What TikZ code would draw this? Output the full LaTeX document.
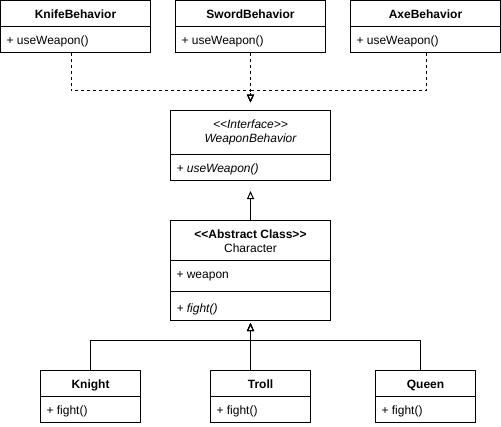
\documentclass[tikz,border=0pt]{standalone}
\usepackage{fontspec}
\setmainfont{Liberation Sans}
\usetikzlibrary{arrows.meta,calc}
\begin{document}
\begin{tikzpicture}[x=1pt,y=-1pt,line width=1pt,
  box/.style={draw,line width=1pt,anchor=north west,inner sep=0pt,outer sep=0pt},
  ttl/.style={font=\fontsize{12}{14}\selectfont\bfseries,anchor=base,inner sep=0pt},
  ttlr/.style={font=\fontsize{12}{14}\selectfont,anchor=base,inner sep=0pt},
  ttli/.style={font=\fontsize{12}{14}\selectfont\itshape,anchor=base,inner sep=0pt},
  itm/.style={font=\fontsize{12}{14}\selectfont,anchor=base west,inner sep=0pt},
  itmi/.style={font=\fontsize{12}{14}\selectfont\itshape,anchor=base west,inner sep=0pt},
  inh/.style={-{Triangle[open,length=8pt,width=7pt]}},
  real/.style={inh,dash pattern=on 3pt off 3pt}]
\useasboundingbox (0,0) rectangle (501,426);

% top behaviour classes
\node[box,minimum width=150pt,minimum height=52pt] (knife) at (0.5,0.5) {};
\draw ($(knife.north west)+(0,26)$) -- ($(knife.north east)+(0,26)$);
\node[ttl] (knifeT) at ($(knife.north)+(0,18)$) {KnifeBehavior};
\node[itm] (knifeA) at ($(knife.north west)+(5.5,44.3)$) {+ useWeapon()};

\node[box,minimum width=150pt,minimum height=52pt] (sword) at (175.5,0.5) {};
\draw ($(sword.north west)+(0,26)$) -- ($(sword.north east)+(0,26)$);
\node[ttl] (swordT) at ($(sword.north)+(0,18)$) {SwordBehavior};
\node[itm] (swordA) at ($(sword.north west)+(5.5,44.3)$) {+ useWeapon()};

\node[box,minimum width=150pt,minimum height=52pt] (axe) at (350.5,0.5) {};
\draw ($(axe.north west)+(0,26)$) -- ($(axe.north east)+(0,26)$);
\node[ttl] (axeT) at ($(axe.north)+(0,18)$) {AxeBehavior};
\node[itm] (axeA) at ($(axe.north west)+(5.5,44.3)$) {+ useWeapon()};

% interface
\node[box,minimum width=160pt,minimum height=70pt] (iface) at (170.5,110.5) {};
\draw ($(iface.north west)+(0,44)$) -- ($(iface.north east)+(0,44)$);
\node[ttli] (ifaceT1) at ($(iface.north)+(0,18)$) {<{}<Interface>{}>};
\node[ttli] (ifaceT2) at ($(iface.north)+(0,31.5)$) {WeaponBehavior};
\node[itmi] (ifaceA) at ($(iface.north west)+(5.5,61.7)$) {+ useWeapon()};

% abstract class
\node[box,minimum width=160pt,minimum height=100pt] (character) at (170.5,220.5) {};
\draw ($(character.north west)+(0,40)$) -- ($(character.north east)+(0,40)$);
\draw ($(character.north west)+(0,70.5)$) -- ($(character.north east)+(0,70.5)$);
\node[ttl] (charT1) at ($(character.north)+(0,18)$) {<{}<Abstract Class>{}>};
\node[ttlr] (charT2) at ($(character.north)+(0,31.5)$) {Character};
\node[itm] (charA) at ($(character.north west)+(5.5,57.8)$) {+ weapon};
\node[itmi] (charM) at ($(character.north west)+(5.5,91.5)$) {+ fight()};

% subclasses
\node[box,minimum width=100pt,minimum height=52pt] (knight) at (40.5,370.5) {};
\draw ($(knight.north west)+(0,26)$) -- ($(knight.north east)+(0,26)$);
\node[ttl] (knightT) at ($(knight.north)+(0,17.8)$) {Knight};
\node[itm] (knightM) at ($(knight.north west)+(5.5,43.8)$) {+ fight()};

\node[box,minimum width=100pt,minimum height=52pt] (troll) at (210.5,370.5) {};
\draw ($(troll.north west)+(0,26)$) -- ($(troll.north east)+(0,26)$);
\node[ttl] (trollT) at ($(troll.north)+(0,17.8)$) {Troll};
\node[itm] (trollM) at ($(troll.north west)+(5.5,43.8)$) {+ fight()};

\node[box,minimum width=100pt,minimum height=52pt] (queen) at (375.5,370.5) {};
\draw ($(queen.north west)+(0,26)$) -- ($(queen.north east)+(0,26)$);
\node[ttl] (queenT) at ($(queen.north)+(0,17.8)$) {Queen};
\node[itm] (queenM) at ($(queen.north west)+(5.5,43.8)$) {+ fight()};

% realisation connectors
\coordinate (rj) at ($(iface.north)+(0,-20)$);
\draw[real,shorten >=8pt] ($(knife.south)+(-4.5,0)$) |- (rj) -- (iface.north);
\draw[real,shorten >=8pt] (sword.south) -- (iface.north);
\draw[real,shorten >=8pt] ($(axe.south)+(0.5,0)$) |- (rj) -- (iface.north);

% inheritance connectors
\draw[inh,shorten >=10.5pt] (character.north) -- (iface.south);
\coordinate (ij) at ($(character.south)+(0,20)$);
\draw[inh,shorten >=2.5pt] (knight.north) |- (ij) -- (character.south);
\draw[inh,shorten >=2.5pt] ($(troll.north)+(-10,0)$) -- (character.south);
\draw[inh,shorten >=2.5pt] ($(queen.north)+(-5,0)$) |- (ij) -- (character.south);
\end{tikzpicture}
\end{document}
